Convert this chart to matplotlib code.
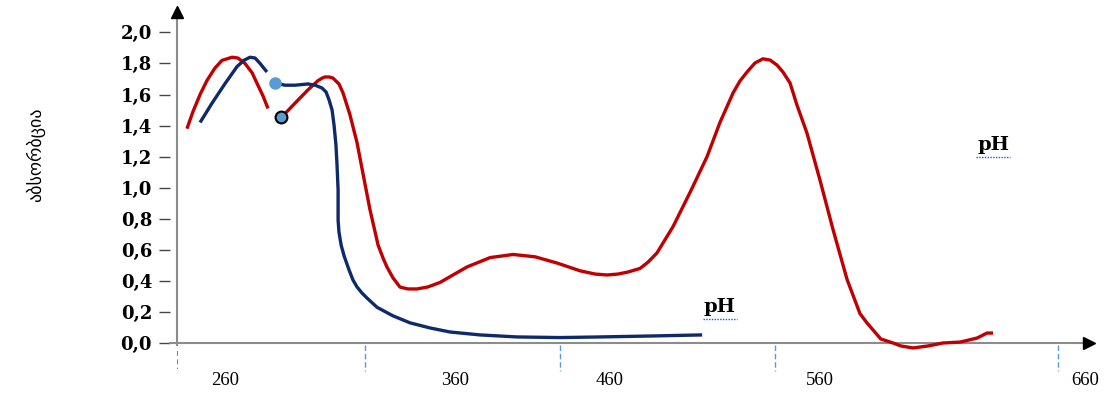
import matplotlib.pyplot as plt

# wavelength (nm) / absorbance
red_x1 = [242.3, 245.1, 248.4, 251.6, 255.3, 258.6, 263.3, 266.0, 269.3, 272.6,
          275.3, 277.7, 280.0]
red_y1 = [1.38, 1.49, 1.60, 1.69, 1.77, 1.82, 1.84, 1.835, 1.80, 1.74,
          1.66, 1.59, 1.51]
red_x2 = [286.0, 288.8, 294.0, 298.6, 303.3, 305.1, 306.5, 308.4, 310.2, 313.0,
          314.9, 318.1, 321.4, 324.6, 327.4, 331.2, 333.5, 335.3, 338.1, 341.4,
          345.1, 349.3, 354.4, 360.0, 372.6, 383.3, 394.0, 404.2, 414.4, 425.1,
          432.1, 437.7, 442.8, 447.4, 453.0, 456.7, 460.9, 468.4, 476.3, 484.2,
          490.2, 496.3, 499.5, 502.8, 506.5, 510.2, 513.5, 516.7, 519.5, 522.8,
          526.0, 530.7, 536.7, 542.8, 549.3, 555.3, 558.6, 561.4, 565.0, 570.7,
          574.3, 580.0, 587.0, 593.9, 601.9, 609.8, 614.4, 617.2]
red_y2 = [1.455, 1.49, 1.565, 1.63, 1.69, 1.705, 1.713, 1.713, 1.706, 1.668,
          1.61, 1.47, 1.29, 1.06, 0.86, 0.63, 0.547, 0.49, 0.42, 0.36,
          0.348, 0.348, 0.361, 0.39, 0.49, 0.55, 0.57, 0.555, 0.515, 0.465,
          0.444, 0.438, 0.444, 0.457, 0.48, 0.52, 0.58, 0.75, 0.97, 1.20,
          1.42, 1.61, 1.687, 1.745, 1.803, 1.83, 1.822, 1.79, 1.745, 1.674,
          1.533, 1.35, 1.05, 0.73, 0.41, 0.19, 0.129, 0.084, 0.026, 0.0,
          -0.019, -0.032, -0.019, 0.0, 0.006, 0.032, 0.064, 0.064]

blue_x1 = [248.4, 254.0, 260.0, 265.6, 268.8, 271.6, 274.0, 276.3, 279.5]
blue_y1 = [1.42, 1.545, 1.67, 1.78, 1.82, 1.84, 1.835, 1.80, 1.745]
blue_x2 = [283.3, 287.9, 292.6, 298.6, 301.9, 305.1, 307.0, 308.4, 309.8, 310.7,
           311.6, 312.1, 312.6, 312.6, 313.0, 314.0, 315.4, 317.7, 319.5, 321.4,
           323.7, 326.0, 330.7, 338.1, 346.0, 355.3, 364.6, 378.6, 395.8, 415.8,
           434.4, 457.7, 481.9]
blue_y2 = [1.674, 1.66, 1.66, 1.668, 1.66, 1.642, 1.616, 1.565, 1.50, 1.404,
           1.275, 1.146, 0.985, 0.79, 0.715, 0.631, 0.56, 0.47, 0.406, 0.361,
           0.322, 0.29, 0.23, 0.175, 0.13, 0.097, 0.071, 0.052, 0.039, 0.035,
           0.039, 0.045, 0.052]

red_marker = (286.0, 1.455)
blue_marker = (283.3, 1.674)

yticks = [0.0, 0.2, 0.4, 0.6, 0.8, 1.0, 1.2, 1.4, 1.6, 1.8, 2.0]
xtick_marks = [325.1, 415.8, 515.8, 647.4]
xlabel_pos = [260, 367, 439, 536.7, 660]
xlabel_text = ['260', '360', '460', '560', '660']
ph_pos = [(490.2, 0.232), (617.2, 1.275)]

RED = '#c00000'
BLUE = '#0f2a6b'
LIGHT = '#5b9bd5'

fig = plt.figure(figsize=(11.19, 3.94), dpi=100)
ax = fig.add_axes([177 / 1119, 0, 1 - 177 / 1119, 1])
ax.set_xlim(237.67, 675.8)
ax.set_ylim(-0.3284, 2.2086)

for s in ['top', 'right', 'bottom']:
    ax.spines[s].set_visible(False)
ax.spines['left'].set_position(('outward', 5))
ax.spines['left'].set_visible(False)
ax.set_xticks([])
ax.set_yticks(yticks)
ax.set_yticklabels([f'{v:.1f}'.replace('.', ',') for v in yticks],
                   fontfamily='DejaVu Serif', fontweight='bold', fontsize=13)
ax.tick_params(axis='y', length=8, width=1, color='#444444', pad=5)

# axes drawn as arrows
ax.plot([234.4, 659], [0, 0], color='#8c8c8c', lw=1.5, clip_on=False)
ax.plot([662], [0], marker='>', color='black', ms=8, clip_on=False)
ax.plot([237.7, 237.7], [-0.01, 2.10], color='#8c8c8c', lw=1.5, clip_on=False)
ax.plot([237.7], [2.13], marker='^', color='black', ms=8, clip_on=False)
ax.plot([237.7, 237.7], [-0.05, -0.17], color='#666666', lw=1.2, ls=(0, (3, 2)))
ax.vlines(xtick_marks, -0.01, -0.18, colors=LIGHT, lw=1, linestyles=(0, (4, 2)))

for x, t in zip(xlabel_pos, xlabel_text):
    ax.text(x, -0.24, t, ha='center', va='center', fontsize=13.5,
            fontfamily='Liberation Serif')

# spectra
kw = dict(lw=2.4, solid_capstyle='butt', solid_joinstyle='round')
ax.plot(red_x1, red_y1, color=RED, **kw)
ax.plot(red_x2, red_y2, color=RED, **kw)
ax.plot(blue_x1, blue_y1, color=BLUE, **kw)
ax.plot(blue_x2, blue_y2, color=BLUE, **kw)
ax.plot(*blue_marker, marker='o', ms=8, mfc=LIGHT, mec=LIGHT, zorder=5)
ax.plot(*red_marker, marker='o', ms=8.5, mfc=LIGHT, mec='black', mew=1.5, zorder=5)

for x, y in ph_pos:
    ax.text(x, y, 'pH', ha='center', va='center', fontsize=14,
            fontfamily='DejaVu Serif', fontweight='bold')
    ax.plot([x - 8, x + 8], [y - 0.075, y - 0.075], color='#2d4bd8',
            lw=1, ls=(0, (1, 1)))

fig.text(35 / 1119, 1 - 155 / 394, 'აბსორბცია', rotation=90, ha='center',
         va='center', fontsize=13, fontfamily='DejaVu Sans')

fig.savefig('out.png', dpi=100)
